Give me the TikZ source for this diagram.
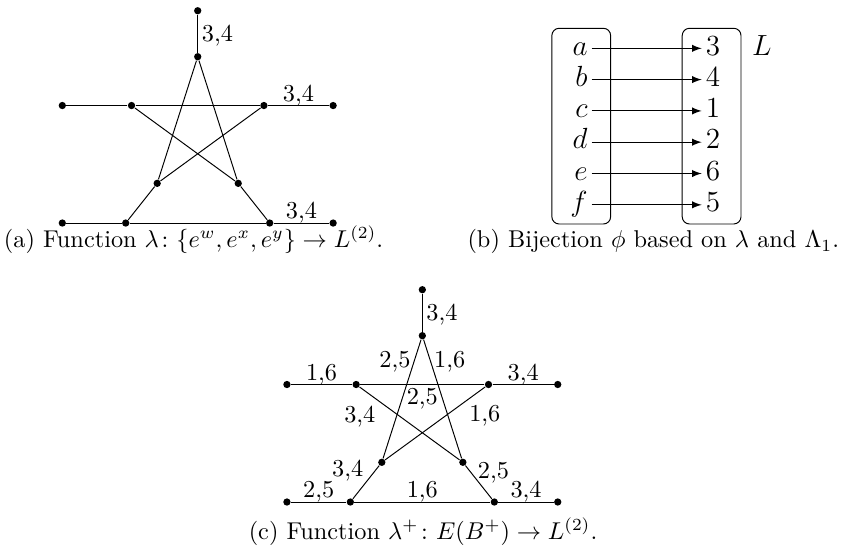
\documentclass[tikz,border=0pt]{standalone}
\usepackage{amsmath, amssymb}

\begin{document}
\begin{tikzpicture}[
    vertex/.style={circle, fill, inner sep=0pt, minimum size=3pt},
    lab/.style={inner sep=1.5pt, text depth=0pt},
    elem/.style={inner sep=1.5pt, font=\large, text height=8pt, text depth=2.5pt},
    setbox/.style={draw, rounded corners=3pt, minimum width=0.85cm, minimum height=2.83cm}
]
\useasboundingbox (0,0) rectangle (12.19,8.04);

% (a) labelling of the three pendant edges
\begin{scope}[shift={(2.859,7.220)}]
    % Draw nodes
    \node[vertex] (a-t) at (0,0) {};
    \node[vertex] (a-p) at (0,0.665) {};
    \node[vertex] (a-ul) at (-0.957,-0.706) {};
    \node[vertex] (a-ur) at (0.957,-0.706) {};
    \node[vertex] (a-ol) at (-1.958,-0.706) {};
    \node[vertex] (a-or) at (1.958,-0.706) {};
    \node[vertex] (a-ll) at (-0.586,-1.831) {};
    \node[vertex] (a-lr) at (0.586,-1.831) {};
    \node[vertex] (a-bl) at (-1.041,-2.405) {};
    \node[vertex] (a-br) at (1.041,-2.405) {};
    \node[vertex] (a-obl) at (-1.958,-2.405) {};
    \node[vertex] (a-obr) at (1.958,-2.405) {};

    % Draw connections
    \draw (a-p) -- (a-t) node[lab, midway, right] {3,4};
    \draw (a-ol) -- (a-ul);
    \draw (a-ul) -- (a-ur);
    \draw (a-ur) -- (a-or) node[lab, midway, above] {3,4};
    \draw (a-ul) -- (a-lr);
    \draw (a-ur) -- (a-ll);
    \draw (a-t) -- (a-ll);
    \draw (a-t) -- (a-lr);
    \draw (a-ll) -- (a-bl);
    \draw (a-lr) -- (a-br);
    \draw (a-obl) -- (a-bl);
    \draw (a-bl) -- (a-br);
    \draw (a-br) -- (a-obr) node[lab, midway, above] {3,4};
\end{scope}

% (b) bijection
\node[setbox] (left) at (8.405,6.216) {};
\node[setbox] (right) at (10.29,6.216) {};

\node[elem, anchor=east] (ea) at (8.556,7.341) {$a$};
\node[elem, anchor=east] (eb) at (8.556,6.889) {$b$};
\node[elem, anchor=east] (ec) at (8.556,6.436) {$c$};
\node[elem, anchor=east] (ed) at (8.556,5.984) {$d$};
\node[elem, anchor=east] (ee) at (8.556,5.531) {$e$};
\node[elem, anchor=east] (ef) at (8.556,5.078) {$f$};

\node[elem, anchor=west] (l3) at (10.147,7.341) {3};
\node[elem, anchor=west] (l4) at (10.147,6.889) {4};
\node[elem, anchor=west] (l1) at (10.147,6.436) {1};
\node[elem, anchor=west] (l2) at (10.147,5.984) {2};
\node[elem, anchor=west] (l6) at (10.147,5.531) {6};
\node[elem, anchor=west] (l5) at (10.147,5.078) {5};
\node[elem] (lname) at (11.015,7.341) {$L$};

\draw[-latex] (ea) -- (l3);
\draw[-latex] (eb) -- (l4);
\draw[-latex] (ec) -- (l1);
\draw[-latex] (ed) -- (l2);
\draw[-latex] (ee) -- (l6);
\draw[-latex] (ef) -- (l5);

% (c) labelling of all edges
\begin{scope}[shift={(6.107,3.186)}]
    % Draw nodes
    \node[vertex] (c-t) at (0,0) {};
    \node[vertex] (c-p) at (0,0.665) {};
    \node[vertex] (c-ul) at (-0.957,-0.706) {};
    \node[vertex] (c-ur) at (0.957,-0.706) {};
    \node[vertex] (c-ol) at (-1.958,-0.706) {};
    \node[vertex] (c-or) at (1.958,-0.706) {};
    \node[vertex] (c-ll) at (-0.586,-1.831) {};
    \node[vertex] (c-lr) at (0.586,-1.831) {};
    \node[vertex] (c-bl) at (-1.041,-2.405) {};
    \node[vertex] (c-br) at (1.041,-2.405) {};
    \node[vertex] (c-obl) at (-1.958,-2.405) {};
    \node[vertex] (c-obr) at (1.958,-2.405) {};

    % Draw connections
    \draw (c-p) -- (c-t) node[lab, midway, right] {3,4};
    \draw (c-t) -- (c-ll) node[lab, pos=0.17, left] {2,5};
    \draw (c-t) -- (c-lr) node[lab, pos=0.17, right] {1,6};
    \draw (c-ol) -- (c-ul) node[lab, midway, above] {1,6};
    \draw (c-ur) -- (c-or) node[lab, midway, above] {3,4};
    \draw (c-ul) -- (c-ur) node[lab, midway, below] {2,5};
    \draw (c-ul) -- (c-lr) node[lab, pos=0.2, below left] {3,4};
    \draw (c-ur) -- (c-ll) node[lab, pos=0.2, below right] {1,6};
    \draw (c-ll) -- (c-bl) node[lab, pos=0.45, above left] {3,4};
    \draw (c-lr) -- (c-br) node[lab, pos=0.5, above right, xshift=-2pt] {2,5};
    \draw (c-obl) -- (c-bl) node[lab, midway, above] {2,5};
    \draw (c-bl) -- (c-br) node[lab, midway, above] {1,6};
    \draw (c-br) -- (c-obr) node[lab, midway, above] {3,4};
\end{scope}

% Captions
\node[anchor=base west, inner sep=0pt] (cap-a) at (0.05,4.46) {(a) Function $\lambda\colon \{e^w, e^x, e^y\} \to L^{(2)}$.};
\node[anchor=base east, inner sep=0pt] (cap-b) at (12.14,4.46) {(b) Bijection $\phi$ based on $\lambda$ and $\Lambda_1$.};
\node (cap-c) at (6.117,0.347) {(c) Function $\lambda^+\colon E(B^+) \to L^{(2)}$.};
\end{tikzpicture}
\end{document}
